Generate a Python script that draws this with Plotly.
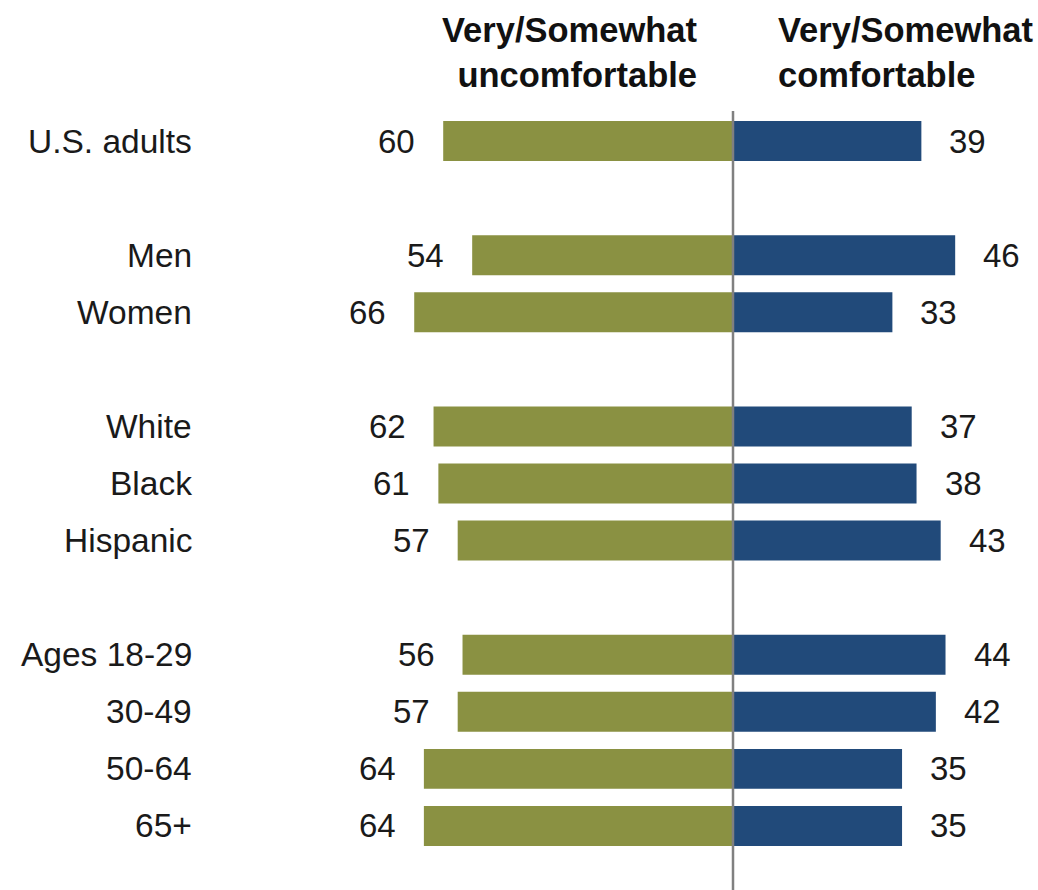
import plotly.graph_objects as go

categories = ["U.S. adults", "Men", "Women", "White", "Black", "Hispanic",
              "Ages 18-29", "30-49", "50-64", "65+"]
row_pos = [0, 2, 3, 5, 6, 7, 9, 10, 11, 12]
uncomfortable = [60, 54, 66, 62, 61, 57, 56, 57, 64, 64]
comfortable = [39, 46, 33, 37, 38, 43, 44, 42, 35, 35]
header_left = "Very/Somewhat<br>uncomfortable"
header_right = "Very/Somewhat<br>comfortable"

W, H = 1038, 890
k = 4.83          # px per percentage point
x0_px = 733       # center line pixel
row_px = 57.08
row0_px = 141

xr = [-x0_px / k, (W - x0_px) / k]
yr = [(H - row0_px) / row_px, -row0_px / row_px]

OLIVE = "#8a9142"
NAVY = "#214a7a"
FONT = "Liberation Sans, Arial, sans-serif"
TXT = "#1a1a1a"

fig = go.Figure()
fig.add_trace(go.Bar(y=row_pos, x=[-v for v in uncomfortable], orientation="h",
                     marker=dict(color=OLIVE, line=dict(width=0)), width=0.7,
                     hoverinfo="skip"))
fig.add_trace(go.Bar(y=row_pos, x=comfortable, orientation="h",
                     marker=dict(color=NAVY, line=dict(width=0)), width=0.7,
                     hoverinfo="skip"))

ann = []
gap = 26 / k
for c, p, u, cf in zip(categories, row_pos, uncomfortable, comfortable):
    ann.append(dict(x=194 / W, xref="paper", y=p, yref="y", text=c, showarrow=False,
                    xanchor="right", yanchor="middle",
                    font=dict(family=FONT, size=33.5, color=TXT)))
    ann.append(dict(x=-u - gap, xref="x", y=p, yref="y", text=str(u), showarrow=False,
                    xanchor="right", yanchor="middle",
                    font=dict(family=FONT, size=33, color=TXT)))
    ann.append(dict(x=cf + gap, xref="x", y=p, yref="y", text=str(cf), showarrow=False,
                    xanchor="left", yanchor="middle",
                    font=dict(family=FONT, size=33, color=TXT)))

hdr_font = dict(family=FONT, size=34.5, color="#111")
ann.append(dict(x=700 / W, xref="paper", y=1 - 53 / H, yref="paper",
                text="<b>" + header_left.replace("<br>", "</b><br><b>") + "</b>",
                showarrow=False, xanchor="right", yanchor="middle", align="right",
                font=hdr_font))
ann.append(dict(x=776 / W, xref="paper", y=1 - 53 / H, yref="paper",
                text="<b>" + header_right.replace("<br>", "</b><br><b>") + "</b>",
                showarrow=False, xanchor="left", yanchor="middle", align="left",
                font=hdr_font))

fig.update_layout(
    width=W, height=H, margin=dict(l=0, r=0, t=0, b=0),
    paper_bgcolor="white", plot_bgcolor="white", showlegend=False,
    barmode="relative",
    xaxis=dict(range=xr, visible=False, fixedrange=True),
    yaxis=dict(range=yr, visible=False, fixedrange=True),
    annotations=ann,
    shapes=[dict(type="line", xref="x", yref="paper", x0=0, x1=0,
                 y0=0, y1=1 - 111 / H, line=dict(color="#808080", width=2.5),
                 layer="above")],
)
fig.write_html("out.html")
